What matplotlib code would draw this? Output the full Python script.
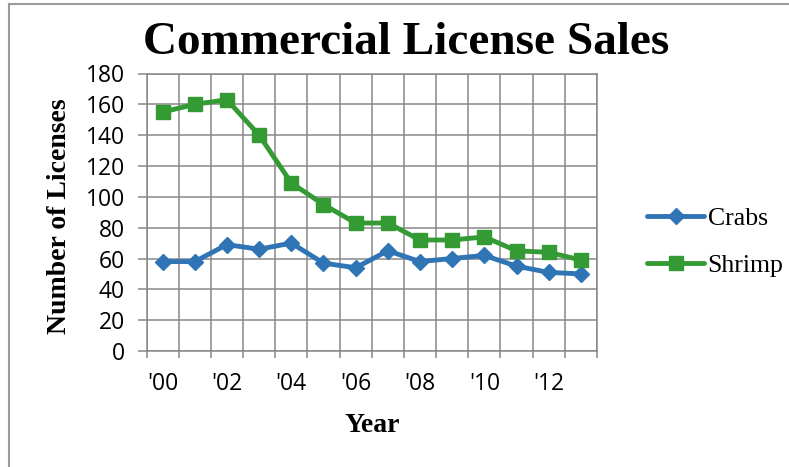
import matplotlib
matplotlib.use("Agg")
import matplotlib.pyplot as plt
from matplotlib.lines import Line2D

# Commercial license sales per year
years = ["'00", "'01", "'02", "'03", "'04", "'05", "'06",
         "'07", "'08", "'09", "'10", "'11", "'12", "'13"]
crabs = [58, 58, 69, 66, 70, 57, 54, 65, 58, 60, 62, 55, 51, 50]
shrimp = [155, 160, 163, 140, 109, 95, 83, 83, 72, 72, 74, 65, 64, 59]
y_ticks = [0, 20, 40, 60, 80, 100, 120, 140, 160, 180]

W, H = 789, 467
fig = plt.figure(figsize=(W / 100, H / 100), dpi=100)

def fx(px):
    return px / W

def fy(py):
    return 1 - py / H

ax = fig.add_axes([fx(146.5), fy(351), fx(597) - fx(146.5), fy(73.5) - fy(351)])

blue = "#2F74B5"
green = "#339A34"
grid_c = "#878787"

x = list(range(len(years)))
ax.plot(x, crabs, color=blue, lw=3.5, marker="D", ms=8.5, label="Crabs",
        solid_capstyle="round", zorder=3)
ax.plot(x, shrimp, color=green, lw=3.5, marker="s", ms=10, label="Shrimp",
        solid_capstyle="round", zorder=3)

ax.set_xlim(-0.5, len(years) - 0.5)
ax.set_ylim(0, 180)

# category boundaries carry the vertical grid and tick marks
ax.set_xticks([i - 0.5 for i in range(len(years) + 1)], minor=True)
ax.set_xticks(x[::2])
ax.set_xticklabels(years[::2])
ax.set_yticks(y_ticks)
ax.tick_params(axis="x", which="major", length=0, pad=15)
ax.tick_params(axis="x", which="minor", length=5, width=1.1, color=grid_c,
               direction="out")
ax.tick_params(axis="y", length=6.5, width=1.1, color=grid_c, direction="out", pad=9)
ax.grid(True, axis="x", which="minor", color=grid_c, lw=1.1)
ax.grid(True, axis="y", which="major", color=grid_c, lw=1.1)
ax.set_axisbelow(True)
for s in ax.spines.values():
    s.set_color(grid_c)
    s.set_linewidth(1.1)

for lab in ax.get_xticklabels() + ax.get_yticklabels():
    lab.set_fontfamily("Open Sans")
    lab.set_fontsize(16.5)

serif = ["Liberation Serif", "DejaVu Serif"]
fig.text(fx(406), fy(54), "Commercial License Sales", ha="center", va="baseline",
         fontsize=34, fontweight="bold", family=serif)
fig.text(fx(60), fy(216), "Number of Licenses", ha="center", va="center",
         rotation=90, fontsize=20, fontweight="bold", family=serif)
fig.text(fx(372), fy(426), "Year", ha="center", va="center",
         fontsize=20, fontweight="bold", family=serif)

leg = ax.legend(loc="center left", bbox_to_anchor=(fx(637), fy(242)),
                bbox_transform=fig.transFigure, frameon=False,
                prop={"family": serif, "size": 18.5}, handlelength=2.2,
                handletextpad=0.15, labelspacing=0.9, borderaxespad=0)

# outer chart frame
fig.add_artist(Line2D([fx(8.5), 1.0], [fy(3.5), fy(3.5)], color="#9A9A9A", lw=1.5,
                      transform=fig.transFigure))
fig.add_artist(Line2D([fx(8.5), fx(8.5)], [fy(3.5), 0.0], color="#9A9A9A", lw=1.5,
                      transform=fig.transFigure))

fig.savefig("out.png", dpi=100)
